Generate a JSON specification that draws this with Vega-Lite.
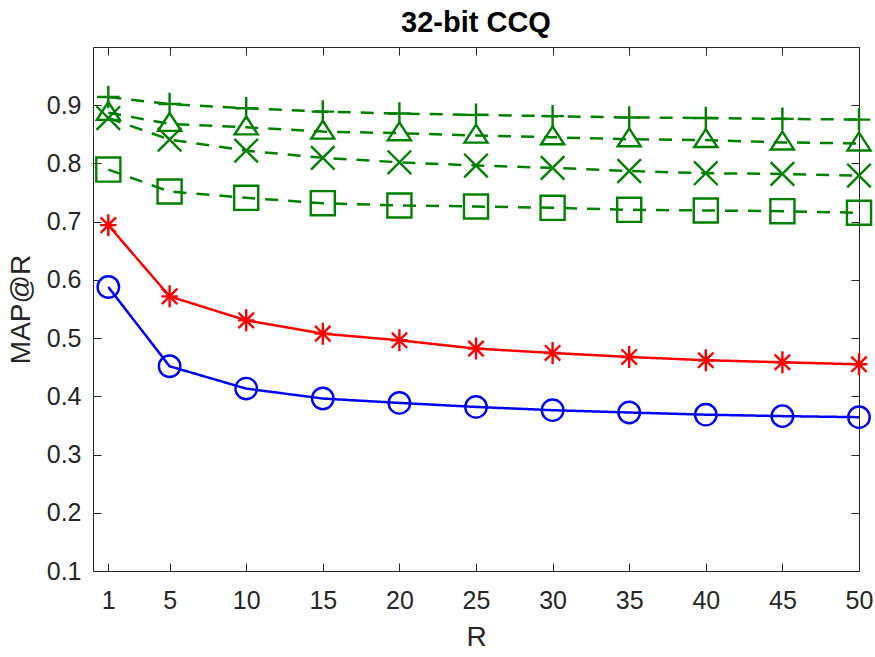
{
  "$schema": "https://vega.github.io/schema/vega-lite/v6.json",
  "width": 766,
  "height": 524,
  "autosize": "none",
  "padding": {"left": 93, "top": 47, "right": 16, "bottom": 86},
  "background": "white",
  "view": {"stroke": null},
  "title": {
    "text": "32-bit CCQ",
    "font": "Liberation Sans",
    "fontSize": 29,
    "fontWeight": "bold",
    "color": "#000000",
    "anchor": "middle",
    "baseline": "alphabetic",
    "offset": -14
  },
  "data": {
    "values": [
      {"s": "S1", "R": 1, "v": 0.5877}, {"s": "S1", "R": 5, "v": 0.4516}, {"s": "S1", "R": 10, "v": 0.4133}, {"s": "S1", "R": 15, "v": 0.3962}, {"s": "S1", "R": 20, "v": 0.3887}, {"s": "S1", "R": 25, "v": 0.3818}, {"s": "S1", "R": 30, "v": 0.3762}, {"s": "S1", "R": 35, "v": 0.3722}, {"s": "S1", "R": 40, "v": 0.3685}, {"s": "S1", "R": 45, "v": 0.366}, {"s": "S1", "R": 50, "v": 0.3642},
      {"s": "S2", "R": 1, "v": 0.694}, {"s": "S2", "R": 5, "v": 0.5717}, {"s": "S2", "R": 10, "v": 0.5305}, {"s": "S2", "R": 15, "v": 0.5077}, {"s": "S2", "R": 20, "v": 0.4962}, {"s": "S2", "R": 25, "v": 0.482}, {"s": "S2", "R": 30, "v": 0.4745}, {"s": "S2", "R": 35, "v": 0.4676}, {"s": "S2", "R": 40, "v": 0.462}, {"s": "S2", "R": 45, "v": 0.4585}, {"s": "S2", "R": 50, "v": 0.455},
      {"s": "S3", "R": 1, "v": 0.914}, {"s": "S3", "R": 5, "v": 0.902}, {"s": "S3", "R": 10, "v": 0.8947}, {"s": "S3", "R": 15, "v": 0.889}, {"s": "S3", "R": 20, "v": 0.8857}, {"s": "S3", "R": 25, "v": 0.8835}, {"s": "S3", "R": 30, "v": 0.8812}, {"s": "S3", "R": 35, "v": 0.879}, {"s": "S3", "R": 40, "v": 0.878}, {"s": "S3", "R": 45, "v": 0.8766}, {"s": "S3", "R": 50, "v": 0.8753},
      {"s": "S4", "R": 1, "v": 0.887}, {"s": "S4", "R": 5, "v": 0.868}, {"s": "S4", "R": 10, "v": 0.862}, {"s": "S4", "R": 15, "v": 0.8547}, {"s": "S4", "R": 20, "v": 0.852}, {"s": "S4", "R": 25, "v": 0.8479}, {"s": "S4", "R": 30, "v": 0.845}, {"s": "S4", "R": 35, "v": 0.8415}, {"s": "S4", "R": 40, "v": 0.8402}, {"s": "S4", "R": 45, "v": 0.8361}, {"s": "S4", "R": 50, "v": 0.8344},
      {"s": "S5", "R": 1, "v": 0.878}, {"s": "S5", "R": 5, "v": 0.841}, {"s": "S5", "R": 10, "v": 0.822}, {"s": "S5", "R": 15, "v": 0.8096}, {"s": "S5", "R": 20, "v": 0.802}, {"s": "S5", "R": 25, "v": 0.7964}, {"s": "S5", "R": 30, "v": 0.7924}, {"s": "S5", "R": 35, "v": 0.787}, {"s": "S5", "R": 40, "v": 0.7832}, {"s": "S5", "R": 45, "v": 0.782}, {"s": "S5", "R": 50, "v": 0.7792},
      {"s": "S6", "R": 1, "v": 0.7895}, {"s": "S6", "R": 5, "v": 0.7518}, {"s": "S6", "R": 10, "v": 0.741}, {"s": "S6", "R": 15, "v": 0.7317}, {"s": "S6", "R": 20, "v": 0.7278}, {"s": "S6", "R": 25, "v": 0.7261}, {"s": "S6", "R": 30, "v": 0.7238}, {"s": "S6", "R": 35, "v": 0.7204}, {"s": "S6", "R": 40, "v": 0.7192}, {"s": "S6", "R": 45, "v": 0.718}, {"s": "S6", "R": 50, "v": 0.7153}
    ]
  },
  "layer": [
    {
      "mark": {"type": "line", "strokeWidth": 2.5, "clip": false},
      "encoding": {
        "x": {
          "field": "R", "type": "quantitative",
          "scale": {"domain": [0, 50], "nice": false, "zero": false},
          "axis": {
            "orient": "bottom", "values": [1, 5, 10, 15, 20, 25, 30, 35, 40, 45, 50],
            "grid": false, "tickSize": -8, "tickColor": "#262626", "tickWidth": 1,
            "domainColor": "#262626", "domainWidth": 1,
            "labelFont": "Liberation Sans", "labelFontSize": 25, "labelColor": "#262626", "labelPadding": 25,
            "labelFlush": false, "labelOverlap": false,
            "title": "R", "titleFont": "Liberation Sans", "titleFontSize": 28, "titleFontWeight": "normal", "titleColor": "#262626",
            "titleBaseline": "alphabetic", "titleY": 74, "titleX": 383, "titleAlign": "center"
          }
        },
        "y": {
          "field": "v", "type": "quantitative",
          "scale": {"domain": [0.1, 1.0], "nice": false, "zero": false},
          "axis": {
            "orient": "left", "values": [0.1, 0.2, 0.3, 0.4, 0.5, 0.6, 0.7, 0.8, 0.9], "format": ".1f",
            "grid": false, "tickSize": -8, "tickColor": "#262626", "tickWidth": 1,
            "domainColor": "#262626", "domainWidth": 1,
            "labelFont": "Liberation Sans", "labelFontSize": 25, "labelColor": "#262626", "labelPadding": 20,
            "labelFlush": false, "labelOverlap": false,
            "title": "MAP@R", "titleFont": "Liberation Sans", "titleFontSize": 28, "titleFontWeight": "normal", "titleColor": "#262626",
            "titleAngle": 270, "titleBaseline": "alphabetic", "titleAlign": "center", "titleX": -64, "titleY": 262
          }
        },
        "color": {
          "field": "s", "type": "nominal", "legend": null,
          "scale": {"domain": ["S1", "S2", "S3", "S4", "S5", "S6"], "range": ["#0000ff", "#ff0000", "#008000", "#008000", "#008000", "#008000"]}
        },
        "strokeDash": {
          "field": "s", "type": "nominal", "legend": null,
          "scale": {"domain": ["S1", "S2", "S3", "S4", "S5", "S6"], "range": [[1, 0], [1, 0], [13, 10], [13, 10], [13, 10], [13, 10]]}
        }
      }
    },
    {
      "mark": {"type": "point", "filled": false, "strokeWidth": 2.4, "opacity": 1, "clip": false},
      "encoding": {
        "x": {
          "field": "R", "type": "quantitative",
          "axis": {
            "orient": "top", "values": [1, 5, 10, 15, 20, 25, 30, 35, 40, 45, 50],
            "grid": false, "labels": false, "title": null, "tickSize": -8, "tickColor": "#262626", "tickWidth": 1,
            "domainColor": "#262626", "domainWidth": 1, "minExtent": 0, "maxExtent": 0
          }
        },
        "y": {
          "field": "v", "type": "quantitative",
          "axis": {
            "orient": "right", "values": [0.1, 0.2, 0.3, 0.4, 0.5, 0.6, 0.7, 0.8, 0.9],
            "grid": false, "labels": false, "title": null, "tickSize": -8, "tickColor": "#262626", "tickWidth": 1,
            "domainColor": "#262626", "domainWidth": 1, "minExtent": 0, "maxExtent": 0
          }
        },
        "color": {"field": "s", "type": "nominal", "legend": null},
        "shape": {
          "field": "s", "type": "nominal", "legend": null,
          "scale": {"domain": ["S1", "S2", "S3", "S4", "S5", "S6"], "range": ["circle", "M0,-1V1M-0.75,0H0.75M-0.7,-0.7L0.7,0.7M-0.7,0.7L0.7,-0.7", "M-1,0H1M0,-1V1", "M0,-0.94L1,0.61L-1,0.61Z", "M-1,-1L1,1M-1,1L1,-1", "square"]}
        },
        "size": {
          "field": "s", "type": "nominal", "legend": null,
          "scale": {"domain": ["S1", "S2", "S3", "S4", "S5", "S6"], "range": [460, 580, 620, 950, 360, 360]}
        }
      }
    }
  ],
  "resolve": {"axis": {"x": "independent", "y": "independent"}}
}
